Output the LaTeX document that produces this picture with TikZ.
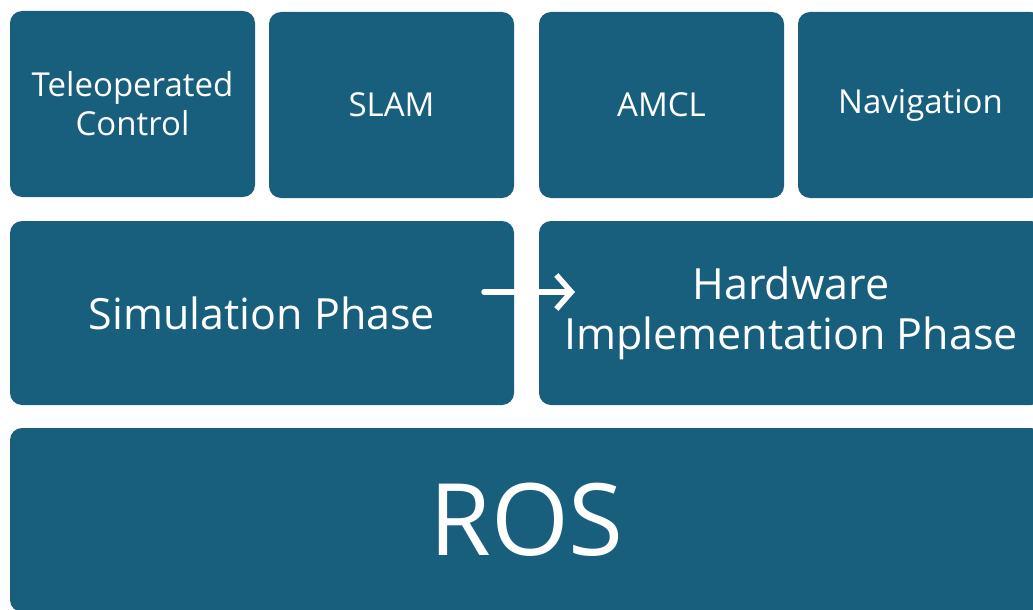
\documentclass[tikz,border=0pt]{standalone}
\usepackage{fontspec}
\setmainfont{Open Sans}
\usetikzlibrary{arrows.meta}
\definecolor{boxc}{RGB}{24,94,125}
\tikzset{
  blk/.style={fill=boxc, rounded corners=12pt, text=white, align=center, inner sep=0pt, draw=none},
  small/.style={font=\fontsize{33}{39}\selectfont},
  mid/.style={font=\fontsize{43}{50}\selectfont},
  big/.style={font=\fontsize{100}{110}\selectfont},
  flow/.style={draw=white, line width=5.5pt, line cap=round, line join=round, -{Straight Barb[length=15pt,width=34pt,line width=5.5pt]}}
}
\begin{document}
\begin{tikzpicture}[x=1pt,y=-1pt]
\useasboundingbox (0,0) rectangle (1033,610);
\clip (0,0) rectangle (1033,610);
\node[blk, small, minimum width=245pt, minimum height=186pt] (tele) at (132.5,104) {Teleoperated\\Control};
\node[blk, small, minimum width=245pt, minimum height=186pt] (slam) at (391.5,105) {SLAM};
\node[blk, small, minimum width=245pt, minimum height=186pt] (amcl) at (661.5,105) {AMCL};
\node[blk, small, minimum width=245pt, minimum height=186pt] (nav) at (920.5,105) {Navigation};
\node[blk, mid, minimum width=504pt, minimum height=184pt] (sim) at (262,313) {Simulation Phase};
\node[blk, mid, minimum width=504pt, minimum height=184pt] (hw) at (791,313) {Hardware\\Implementation Phase};
\node[blk, big, minimum width=1033pt, minimum height=184pt] (ros) at (526.5,520) {ROS};
\coordinate (a1) at (484,292);
\coordinate (a2) at (575,292);
\draw[flow] (a1) -- (a2);
\end{tikzpicture}
\end{document}
